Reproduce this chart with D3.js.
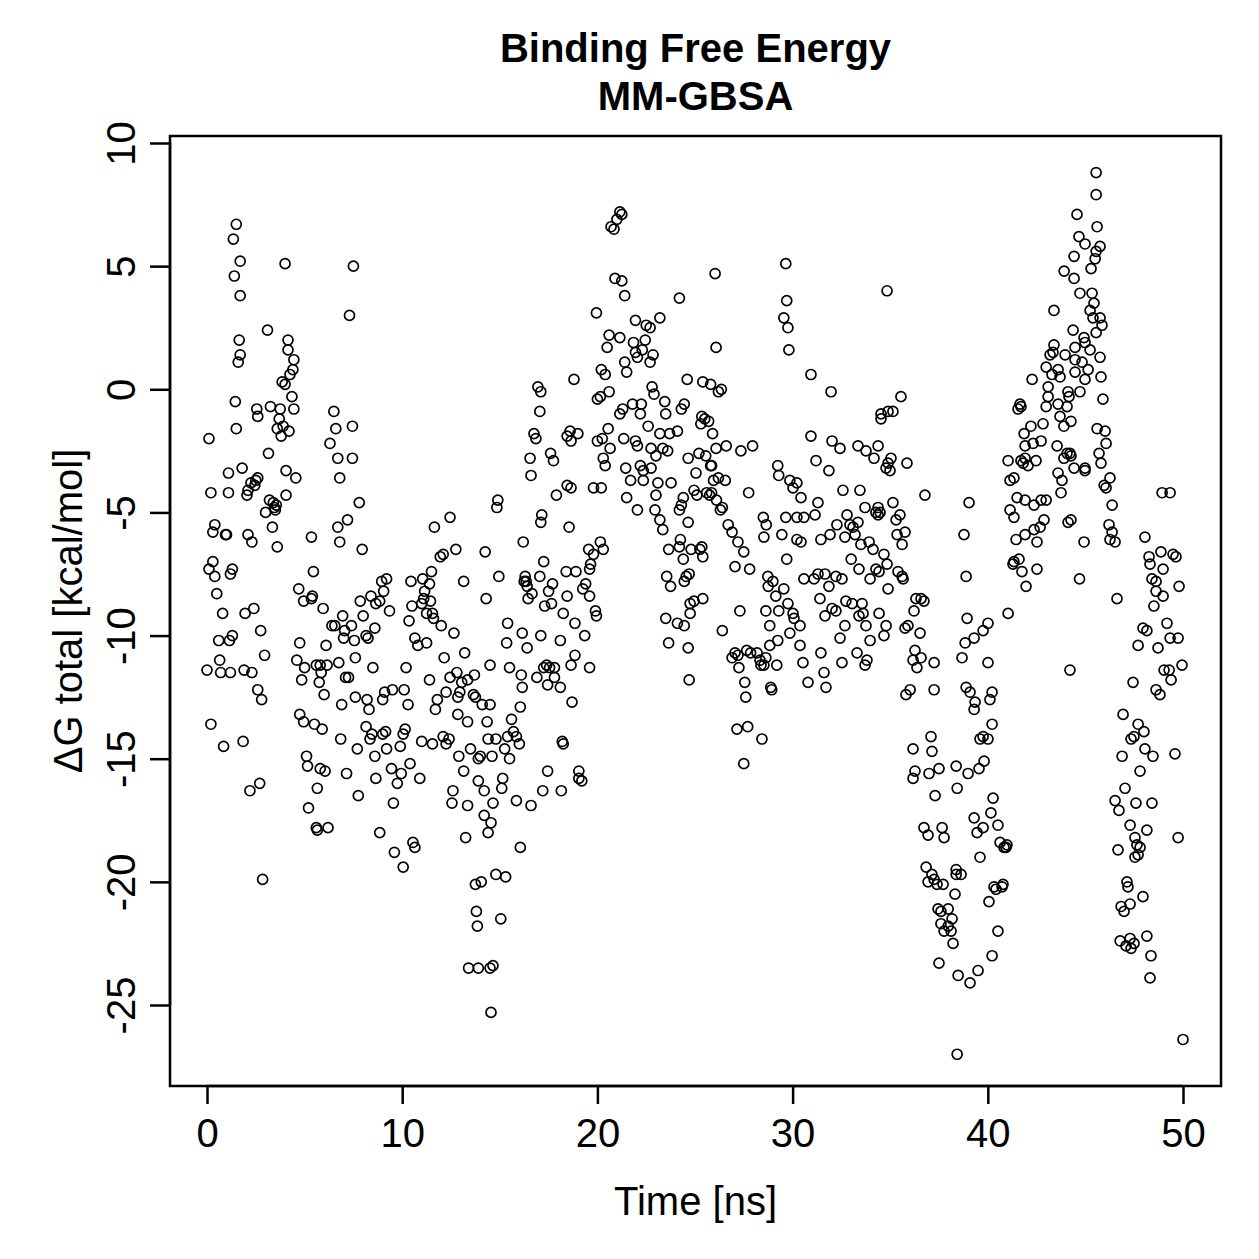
<!DOCTYPE html>
<html>
<head>
<meta charset="utf-8">
<script src="https://cdn.jsdelivr.net/npm/d3@7"></script>
<style>
  body { margin: 0; background: #fff; }
  text { font-family: "Liberation Sans", Arial, sans-serif; fill: #000; }
</style>
</head>
<body>
<div id="chart"></div>
<script>
// frames, [time ns, dG kcal/mol], grouped by time window
var frames0to5 = [
  [0.1,-2],[0.2,-4.2],[0.3,-5.8],[0.1,-7.3],[0.3,-7],[0.4,-7.6],[0.5,-8.3],[0,-11.4],[0.2,-13.6],[0.4,-5.5],
  [0.6,-10.2],[0.7,-11.5],[0.8,-9.1],[0.65,-11],[0.85,-14.5],[0.95,-5.9],[1,-5.9],[1.1,-4.2],[1.2,-7.5],[1.3,-7.3],
  [1.15,-10.2],[1.2,-11.5],[1.1,-3.4],[1.3,-10],[1.35,6.1],[1.5,6.7],[1.4,4.6],[1.7,5.2],[1.7,3.8],[1.65,2],
  [1.6,1.1],[1.7,1.4],[1.45,-0.5],[1.5,-1.6],[1.8,-3.2],[2.05,-4.3],[1.9,-11.4],[1.85,-14.3],[1.95,-9.1],[2.1,-5.9],
  [2.3,-6.2],[2.1,-4.1],[2.25,-3.8],[2.5,-3.7],[2.6,-3.6],[2.45,-3.9],[2.2,-16.3],[2.3,-11.5],[2.55,-0.8],[2.6,-1.1],
  [2.4,-8.9],[2.6,-12.2],[2.8,-12.6],[2.75,-9.8],[2.7,-16],[2.85,-19.9],[2.95,-10.8],[3,-5],[3.1,2.4],[3.25,-0.7],
  [3.2,-4.5],[3.4,-4.6],[3.35,-5.6],[3.15,-2.6],[3.45,-4.8],[3.5,-4.9],[3.55,-4.7],[3.6,-1.6],[3.7,-1.2],[3.75,-0.8],
  [3.6,-6.4],[3.85,0.3],[4.05,-4.3],[3.9,-1.5],[3.8,-1.9],[4,5.1],[4,0.2],[4.15,2],[4.15,1.6],[4.25,0.6],
  [4.05,-3.3],[4.35,-0.3],[4.45,-0.8],[4.45,1.2],[4.4,0.8],[4.2,-1.7],[4.55,-3.6]
];

var frames5to10 = [
  [4.7,-8.1],[4.6,-11],[4.75,-13.2],[4.75,-10.3],[4.85,-11.8],[4.95,-8.6],[5,-11.3],[4.95,-13.5],[5.1,-14.9],[5.15,-15.3],
  [5.2,-17],[5.35,-6],[5.4,-8.4],[5.35,-8.5],[5.45,-7.4],[5.6,-11.2],[5.5,-13.6],[5.6,-17.8],[5.65,-17.9],[5.65,-16.2],
  [5.8,-15.4],[5.8,-11.2],[5.75,-11.9],[5.85,-11.5],[5.95,-8.9],[6,-12.4],[5.9,-13.8],[6.05,-15.5],[6.2,-17.8],[6.15,-11.2],
  [6.4,-9.6],[6.55,-9.6],[6.1,-10.4],[6.3,-2.2],[6.5,-0.9],[6.6,-1.6],[6.7,-2.8],[6.8,-3.6],[6.7,-5.6],[6.8,-6.2],
  [6.75,-11.1],[6.9,-12.8],[6.95,-9.2],[7,-10.1],[6.85,-14.2],[7.05,-9.8],[7.1,-11.7],[7.25,-11.7],[7.15,-15.6],[7.2,-5.3],
  [7.3,3],[7.5,5],[7.45,-1.5],[7.45,-2.8],[7.4,-9.6],[7.55,-10.2],[7.6,-10.9],[7.6,-12.5],[7.7,-14.6],[7.75,-16.5],
  [7.8,-4.6],[7.95,-6.5],[7.85,-8.6],[8,-9.2],[8.15,-10],[8.25,-10.1],[8.15,-13.7],[8.4,-8.4],[8.5,-11.3],[8.3,-13],
  [8.2,-12.6],[8.45,-14],[8.35,-14.2],[8.6,-14.9],[8.65,-15.8],[8.85,-18],[8.6,-9.7],[8.65,-8.7],[8.85,-8.6],[8.95,-7.8],
  [9.05,-8.2],[9.1,-12.3],[9.15,-13.9],[9.2,-14.6],[9,-12.6],[9,-14],[9.2,-7.7],[9.35,-9],[9.5,-12.2],[9.45,-15.4],
  [9.55,-16.8],[9.6,-18.8],[9.75,-16],[9.95,-15.6],[10.05,-19.4],[9.9,-14.5],[10.05,-14],[10.1,-12.2],[10.15,-13.8],[10.3,-12.8],
  [10.2,-11.3]
];

var frames10to16 = [
  [10.35,-9.4],[10.5,-8.8],[10.45,-7.8],[10.4,-15.2],[10.55,-18.4],[10.65,-18.6],[10.65,-10.1],[10.8,-10.4],[11,-14.3],[10.9,-15.8],
  [11,-8.7],[11.05,-7.7],[11.15,-8.2],[11.1,-8.5],[11.25,-9.1],[11.25,-10.3],[11.4,-11.8],[11.4,-7.9],[11.5,-7.4],[11.6,-9.3],
  [11.55,-9.1],[11.45,-8.6],[11.7,-13],[11.8,-12.6],[11.55,-14.4],[11.95,-6.8],[11.65,-5.6],[12.1,-6.7],[12,-9.6],[12.15,-10.9],
  [12.25,-12.3],[12.1,-14.1],[12.25,-14.4],[12.4,-14.2],[12.6,-16.3],[12.55,-16.8],[12.45,-5.2],[12.45,-11.7],[12.75,-6.5],[12.65,-9.9],
  [12.85,-12.5],[12.85,-13.2],[12.9,-14.9],[12.95,-12.3],[12.8,-11.5],[13.05,-11.9],[13.15,-7.8],[13.2,-10.7],[13.35,-11.8],[13.35,-16.9],
  [13.25,-18.2],[13.35,-13.5],[13.15,-15.5],[13.5,-14.6],[13.65,-12.4],[13.7,-11.6],[13.75,-12.5],[13.4,-23.5],[13.75,-20.1],[13.8,-21.2],
  [13.85,-21.8],[14.05,-20],[13.9,-23.5],[13.9,-15.9],[13.9,-15],[14.2,-16.3],[14.2,-17.3],[14,-14.9],[14.1,-12.8],[14.35,-13.5],
  [14.3,-8.5],[14.25,-6.6],[14.5,-11.2],[14.5,-12.8],[14.4,-14.2],[14.4,-18],[14.5,-23.5],[14.65,-23.4],[14.55,-25.3],[14.6,-14.9],
  [14.55,-17.6],[14.65,-16.8],[14.8,-14.2],[14.8,-19.7],[14.85,-4.8],[14.9,-4.5],[14.95,-7.6],[15.05,-21.5],[15.15,-15.8],[15.1,-16.2],
  [15.25,-14.6],[15.4,-14.1],[15.3,-19.8],[15.35,-10.3],[15.4,-9.5],[15.5,-11.3],[15.6,-13.4],[15.7,-13.9],[15.5,-15],[15.85,-16.7],
  [15.85,-14.1],[16.05,-12.9],[16,-14.4],[16.05,-18.6],[16.15,-12.1]
];

var frames16to20 = [
  [16.2,-6.2],[16.15,-9.9],[16.1,-11.6],[16.25,-7.8],[16.3,-7.6],[16.35,-7.8],[16.4,-8],[16.45,-8.5],[16.4,-10.5],[16.6,-16.9],
  [16.6,-3.5],[16.55,-2.8],[16.75,-1.8],[16.85,-2],[16.95,0.1],[17.1,-0.1],[17.05,-0.9],[16.65,-8.3],[17.1,-5.4],[17.15,-5.1],
  [17.05,-7.6],[17.25,-7],[17.1,-10],[16.9,-11.7],[17.25,-11.3],[17.4,-11.2],[17.55,-11.3],[17.8,-11.3],[17.45,-12],[17.2,-16.3],
  [17.45,-15.5],[17.65,-8.7],[17.5,-8.2],[17.7,-7.9],[17.6,-2.6],[17.75,-2.9],[17.9,-4.3],[17.3,-8.8],[18.1,-10.2],[17.8,-11.7],
  [18.2,-14.3],[18.25,-14.4],[18.1,-12.1],[18.15,-16.3],[18.25,-9.1],[18.45,-8.4],[18.4,-7.4],[18.55,-5.6],[18.45,-3.9],[18.45,-1.9],
  [18.6,-1.7],[18.65,-2.1],[18.65,-4],[18.65,-11.2],[18.7,-12.7],[18.85,-9.5],[18.85,-10.8],[18.9,-7.4],[19.05,-15.5],[19.05,-15.8],
  [19.2,-15.9],[19,-1.8],[19.25,-8.1],[19.35,-10],[19.4,-7.9],[19.55,-6.5],[19.65,-7.1],[19.8,-6.7],[19.6,-7.3],[19.6,-8.4],
  [19.6,-11.3],[19.9,-9],[19.95,-9.2],[19.8,-4],[20.3,-6.5],[20.15,-6.2],[18.8,0.4]
];

var frames20to25 = [
  [20,-0.4],[20.15,-0.3],[20,-2.1],[19.95,3.1],[20.2,0.8],[20.25,-2],[20.3,-2.8],[20.4,-3.1],[20.2,-4],[20.4,0.6],
  [20.5,1.7],[20.55,-1.6],[20.65,-2.4],[20.6,-0.1],[20.6,2.2],[20.7,6.6],[20.85,6.5],[21,6.9],[21.15,7.2],[21.25,7.1],
  [20.9,4.5],[21.25,4.4],[21.4,3.8],[21.15,2.1],[21.4,1.1],[21.15,-1],[21.3,-0.8],[21.35,-2],[21.45,-3.2],[21.5,-4.4],
  [21.7,-3.7],[21.5,0.7],[21.85,1.9],[21.95,1.5],[21.95,2.8],[22.05,1.3],[21.8,-0.6],[21.95,-2.1],[22.05,-2.3],[22.05,-4.9],
  [22.2,-3.1],[22.35,-3.7],[22.35,-3.3],[22.2,-1],[22.25,-0.6],[22.3,1.6],[22.45,2],[22.5,2.6],[22.7,2.5],[23.2,2.9],
  [22.7,1.1],[22.85,1.4],[22.8,0.1],[22.9,-0.2],[22.6,-1.5],[22.75,-2.4],[23,-2.7],[22.75,-3.2],[23.1,-3.8],[23,-4.3],
  [22.95,-4.9],[23.2,-5.3],[23.35,-5.7],[23.35,-2.4],[23.2,-1.8],[23.45,-0.5],[23.5,-1],[23.6,-2.5],[23.775,-3.8],[23.7,-1.8],
  [23.65,-6.5],[23.55,-7.6],[23.75,-8],[23.5,-9.3],[23.65,-10.3],[24.25,-6.1],[24.2,-6.4],[24.4,-6.9],[24.55,-7.6],[24.1,-9.5],
  [24.45,-9.6],[24.45,-7.8],[24.2,3.7],[24.2,-4.9],[24.4,-4.4],[24.3,-4.7],[24.1,-1.7],[24.3,-0.8],[24.45,-0.6],[24.6,0.4],
  [24.65,-2.8],[24.65,-5.4],[24.8,-6.5],[24.7,-7.5],[24.75,-8.7],[24.75,-9.1],[24.65,-10.5],[24.7,-11.8],[24.95,-8.6],[24.95,-4.1]
];

var frames25to30 = [
  [25.1,-4.3],[25.05,-3.4],[25.2,-2.6],[25.3,-1.4],[25.35,-1.1],[25.5,-1.2],[25.7,-1.3],[25.4,0.3],[25.8,0.2],[26.2,-0.1],
  [26.35,0],[25.6,-4.2],[25.75,-4.3],[25.85,-4.2],[25.95,-3.7],[26.1,-4.5],[26.3,-4.9],[26.2,-3.6],[25.55,-2.7],[25.8,-3.1],
  [25.85,-3.1],[25.35,-6.4],[25.25,-6.5],[25.4,-6.8],[25.9,-1.8],[26.08,-2.4],[25.4,-8.5],[26.08,1.7],[26.03,4.7],[26.6,-2.3],
  [26.4,-4.8],[26.7,-5.5],[26.55,-3.7],[26.9,-5.8],[26.4,-9.8],[27.05,-7.2],[27.05,-10.7],[26.9,-10.9],[27.2,-10.8],[27.25,-11.3],
  [27.15,-13.8],[27.3,-9],[27.2,-6.2],[27.5,-6.6],[27.35,-2.5],[27.6,-12.5],[27.55,-11.9],[27.7,-13.7],[27.5,-15.2],[27.65,-10.6],
  [27.85,-10.7],[27.8,-7.3],[27.75,-4.2],[27.95,-2.3],[28.5,-5.2],[28.53,-6],[28.65,-5.5],[28.75,-8],[28.18,-10.7],[28.38,-11.2],
  [28.53,-11.2],[28.63,-10.9],[28.33,-11],[28.43,-14.2],[28.63,-9],[28.83,-9.6],[28.73,-7.6],[28.88,-12.1],[28.83,-10.4],[28.99,-7.8],
  [29.14,-8.4],[29.29,-9],[29.24,-10.2],[29.19,-11.2],[28.93,-12.2],[29.24,-3.1],[29.29,-3.5],[29.65,-5.2],[29.45,-5.9],[29.7,-6.9],
  [29.55,-8.1],[29.76,-8.7],[29.86,-9.9],[30.07,-9.3],[29.65,5.1],[29.7,3.6],[29.55,2.9],[29.76,2.5],[29.81,1.6],[29.86,-3.7],
  [30.02,-4],[30.22,-5.2],[30.22,-6.1],[30.43,-6.2],[30.22,-3.8],[30.43,-4.4],[30.58,-5.2],[30.58,-7.7],[30.02,-9.1],[30.38,-10.4]
];

var frames30to35 = [
  [30.53,-11.1],[30.79,-11.9],[30.38,-9.6],[30.94,0.6],[30.94,-1.9],[31.15,-5.1],[31.1,-7.7],[31.3,-7.5],[31.2,-2.9],[31.3,-4.6],
  [31.45,-6.1],[31.4,-8.5],[31.45,-10.7],[31.61,-11.5],[31.71,-12.1],[31.66,-9.2],[31.66,-7.5],[31.86,-8],[31.92,-5.9],[31.86,-3.3],
  [32.02,-2.1],[31.97,-0.1],[32.27,-5.5],[32.22,-7.6],[32.02,-8.9],[32.22,-9],[32.43,-10.1],[32.53,-11.1],[32.68,-9.6],[32.73,-8.6],
  [32.53,-7.7],[32.68,-6],[32.79,-5.1],[32.58,-4.1],[32.43,-2.4],[32.94,-5.5],[33.1,-5.6],[33.2,-5.9],[33,-6.9],[33.05,-8.7],
  [33.3,-10.7],[33.4,-9.2],[33.56,-8.7],[33.35,-5.4],[33.35,-2.3],[33.5,-6.3],[33.4,-7.3],[33.61,-9.1],[33.81,-11],[33.71,-11.2],
  [33.76,-2.5],[33.45,-4.1],[33.71,-4.8],[33.92,-6.2],[33.97,-7.7],[33.76,-9.6],[33.97,-10.2],[34.12,-6.5],[34.27,-7.3],[34.17,-2.8],
  [34.27,-5],[34.38,-5.1],[34.48,-5],[34.38,-2.3],[34.38,-4.8],[34.43,-7.4],[34.43,-9.1],[34.68,-10],[34.79,-9.6],[34.53,-1.2],
  [34.53,-1],[34.68,-6.7],[34.84,-7.1],[34.89,-8.1],[34.79,-3.2],[34.89,-3],[34.84,4],[34.89,-0.9],[34.99,-3.3],[35.04,-2.8],
  [35.14,-4.6],[35.3,-5.3],[35.35,-5.9],[35.4,-7.4],[35.61,-7.6],[35.14,-0.9],[35.55,-0.3],[35.86,-3],[35.61,-6.3],[35.5,-5.1],
  [35.76,-5.8],[35.66,-7.7],[35.76,-9.7],[35.91,-9.6],[35.81,-12.4],[36.02,-12.2],[36.17,-11],[36.27,-10.6],[36.37,-11.3],[36.17,-14.6]
];

var frames35to40 = [
  [36.17,-15.8],[36.27,-15.5],[36.22,-9],[36.32,-8.5],[36.58,-8.5],[36.73,-8.6],[36.53,-9.9],[36.58,-10.9],[36.73,-17.8],[36.84,-19.4],
  [36.94,-20],[36.94,-18.1],[37.14,-19.7],[37.25,-19.9],[37.4,-20.1],[37.09,-14.1],[36.99,-15.6],[37.14,-14.7],[36.78,-4.3],[37.25,-11.1],
  [37.25,-12.2],[37.3,-16.5],[37.45,-21.1],[37.6,-21.7],[37.76,-22],[37.5,-23.3],[37.6,-21.2],[37.5,-15.4],[37.66,-17.8],[37.76,-18.2],
  [37.71,-20.1],[37.97,-21.8],[38.12,-22],[38.22,-22.5],[37.97,-21.1],[38.17,-21.5],[38.38,-19.5],[38.38,-19.7],[38.43,-16.2],[38.38,-15.3],
  [38.32,-20.5],[38.48,-23.8],[38.43,-27],[38.63,-19.7],[38.68,-10.9],[38.78,-5.9],[38.89,-7.6],[38.94,-9.3],[38.84,-10.3],[38.89,-12.1],
  [39.09,-12.3],[39.3,-13],[39.35,-12.7],[39.3,-10.1],[39.04,-4.6],[38.99,-15.6],[39.3,-17.4],[39.45,-18],[39.09,-24.1],[39.5,-23.6],
  [39.6,-14.2],[39.76,-14.1],[39.55,-15.4],[39.76,-9.8],[40.01,-9.5],[39.81,-15.1],[39.6,-19],[39.76,-17.8],[40.01,-14.2],[40.01,-11.1],
  [40.11,-12.6],[40.22,-13.6],[40.22,-12.3],[40.27,-16.6],[40.16,-17.2],[40.06,-20.8],[40.22,-23],[40.32,-20.2],[40.42,-20.3],[40.52,-22]
];

var frames40to45 = [
  [40.52,-17.7],[40.63,-18.4],[40.83,-18.6],[40.73,-20.2],[40.78,-20.1],[40.98,-18.5],[40.93,-18.6],[41.04,-9.1],[41.04,-2.9],[41.14,-3.7],
  [41.14,-4.9],[41.34,-5.2],[41.34,-3.6],[41.55,-0.8],[41.65,-0.6],[41.7,-0.7],[41.5,-4.4],[41.45,-6.1],[41.34,-7],[41.29,-7.1],
  [41.7,-2.9],[41.91,-2.8],[41.81,-3],[42.06,-3.1],[41.86,-1.8],[41.91,-2.3],[41.91,-4.5],[41.6,-6.9],[41.75,-7.4],[41.91,-5.9],
  [41.96,-8],[42.27,0.4],[42.21,-1.5],[42.32,-2.2],[42.47,-2.9],[42.37,-4.7],[42.37,-5.7],[42.52,-6.2],[42.73,-4.5],[42.68,-5.6],
  [42.88,-5.3],[42.99,-4.5],[42.52,-7.3],[42.73,-2.1],[42.83,-1.4],[42.99,-0.7],[43.09,-0.3],[42.99,0.9],[43.19,1.4],[43.09,0.1],
  [43.34,1.5],[43.39,1.8],[43.39,3.2],[43.29,0.6],[43.6,-0.6],[43.7,-1.1],[43.9,-1.5],[43.55,-2.3],[43.6,-3.4],[43.75,-4.2],
  [43.8,-3.7],[43.9,-2.8],[44.06,-2.6],[43.6,0.8],[43.7,0.5],[44.11,-0.1],[44.06,-0.7],[44.16,-0.3],[43.96,1.4],[44.21,-2.6],
  [44.26,-1.3],[44.42,-3.2],[44.11,-5.4],[44.26,-5.3],[44.7,-7.7],[44.98,-3.3],[43.91,4.8],[44.47,1.2],[44.47,0.7],[44.47,1.7],
  [44.72,-0.1],[44.26,-2.7],[44.42,4.5],[44.42,5.4],[44.57,7.1],[44.67,6.2],[44.98,5.9],[44.72,3.9],[44.37,2.4],[44.83,1.1]
];

var frames45to50 = [
  [44.98,0.4],[45.14,0.8],[44.93,2.1],[44.98,1.9],[45.24,1.6],[44.98,-3.2],[44.93,-6.2],[44.21,-11.4],[45.24,3.2],[45.39,2.9],
  [45.34,3.9],[45.44,3.5],[45.29,4.9],[45.5,5.3],[45.55,5.6],[45.55,7.9],[45.55,8.8],[45.6,6.6],[45.75,5.8],[45.55,2.3],
  [45.75,2.9],[45.85,2.6],[45.75,1.3],[45.8,0.5],[45.9,-0.4],[45.6,-1.6],[45.7,-2.6],[45.8,-3],[46.06,-2.2],[46.01,-1.7],
  [45.96,-3.9],[46.06,-4],[46.26,-3.6],[46.21,-5.5],[46.26,-6.1],[46.37,-5.8],[46.52,-6.2],[46.37,-4.7],[46.62,-8.5],[46.52,-16.7],
  [46.67,-18.7],[46.72,-17.1],[46.83,-21],[46.98,-21.2],[46.78,-22.4],[47.08,-22.6],[46.93,-13.2],[46.88,-14.9],[47.03,-16.2],[47.13,-20],
  [47.18,-20.2],[47.29,-20.9],[47.34,-22.7],[47.29,-22.3],[47.34,-14.2],[47.49,-14.1],[47.29,-17.7],[47.54,-18.2],[47.54,-19],[47.7,-18.9],
  [47.64,-18.5],[47.49,-22.5],[47.44,-11.9],[47.7,-13.6],[47.59,-16.8],[47.7,-10.4],[47.95,-9.7],[48.05,-6],[47.8,-15.5],[47.8,-18.6],
  [47.95,-20.6],[48.15,-22.2],[48.15,-17.9],[48.05,-14.6],[48,-13.9],[48.15,-9.8],[48.26,-6.8],[48.31,-7.1],[48.41,-7.7],[48.62,-7.8],
  [48.62,-8.2],[48.51,-8.8],[48.62,-12.2],[48.46,-14.9],[48.41,-16.8],[48.36,-23],[48.31,-23.9],[48.82,-12.4],[48.72,-10.5],[48.87,-6.6],
  [48.98,-7.3],[49.18,-9.5],[48.98,-8.4],[48.93,-4.2],[49.34,-4.2],[49.03,-11.4],[49.29,-11.4],[49.34,-10.1],[49.39,-11.8],[49.59,-14.8],
  [49.49,-6.7],[49.64,-6.8],[49.8,-8],[49.75,-10.1],[49.95,-11.2],[49.75,-18.2],[50,-26.4]
];

var xTicks = [0, 10, 20, 30, 40, 50];
var yTicks = [10, 5, 0, -5, -10, -15, -20, -25];
var titleLines = ['Binding Free Energy', 'MM-GBSA'];
var xLabel = 'Time [ns]';
var yLabel = '\u0394G total [kcal/mol]';

(function(d3) {
  'use strict';

  var width = 1259, height = 1259;
  var box = { left: 170, right: 1221, top: 136, bottom: 1086 };
  var fontSize = '40px';

  var allFrames = [].concat(frames0to5, frames5to10, frames10to16, frames16to20,
    frames20to25, frames25to30, frames30to35, frames35to40, frames40to45, frames45to50);

  var x = d3.scaleLinear().domain([0, 50]).range([207, 1183]);
  var y = d3.scaleLinear().domain([-25, 10]).range([1005, 143]);

  var svg = d3.select('#chart').append('svg')
    .attr('width', width)
    .attr('height', height);

  // points
  svg.append('g').selectAll('circle')
    .data(allFrames)
    .enter()
    .append('circle')
    .attr('cx', function(d) { return x(d[0]); })
    .attr('cy', function(d) { return y(d[1]); })
    .attr('r', 5)
    .attr('fill', 'none')
    .attr('stroke', '#000')
    .attr('stroke-width', 1.7);

  // plot box
  svg.append('rect')
    .attr('x', box.left)
    .attr('y', box.top)
    .attr('width', box.right - box.left)
    .attr('height', box.bottom - box.top)
    .attr('fill', 'none')
    .attr('stroke', '#000')
    .attr('stroke-width', 2.5);

  // x axis
  var xAxis = d3.axisBottom(x).tickValues(xTicks).tickSize(18);
  var gx = svg.append('g')
    .attr('transform', 'translate(0,' + box.bottom + ')')
    .call(xAxis);
  gx.select('.domain').attr('d', 'M' + x(0) + ',0H' + x(50)).attr('stroke-width', 2.5);
  gx.selectAll('.tick line').attr('stroke-width', 2.5);
  gx.selectAll('.tick text')
    .attr('y', 61)
    .attr('dy', null)
    .style('font-family', '"Liberation Sans", Arial, sans-serif')
    .style('font-size', fontSize);

  // y axis, labels turned like R's default
  var yAxis = d3.axisLeft(y).tickValues(yTicks).tickSize(20).tickFormat(d3.format('d'));
  var gy = svg.append('g')
    .attr('transform', 'translate(' + box.left + ',0)')
    .call(yAxis);
  gy.select('.domain').attr('d', 'M0,' + y(10) + 'V' + y(-25)).attr('stroke-width', 2.5);
  gy.selectAll('.tick line').attr('stroke-width', 2.5);
  gy.selectAll('.tick text')
    .attr('x', 0)
    .attr('dy', null)
    .attr('transform', 'translate(-35,0) rotate(-90)')
    .attr('text-anchor', 'middle')
    .style('font-family', '"Liberation Sans", Arial, sans-serif')
    .style('font-size', fontSize);
  svg.selectAll('.tick text').text(function(d) { return String(d).replace('\u2212', '-'); });

  // titles
  svg.append('g').selectAll('text')
    .data(titleLines)
    .enter()
    .append('text')
    .attr('x', (box.left + box.right) / 2)
    .attr('y', function(d, i) { return 62 + i * 48; })
    .attr('text-anchor', 'middle')
    .style('font-size', fontSize)
    .style('font-weight', 'bold')
    .text(function(d) { return d; });

  svg.append('text')
    .attr('x', (box.left + box.right) / 2)
    .attr('y', 1215)
    .attr('text-anchor', 'middle')
    .style('font-size', fontSize)
    .text(xLabel);

  svg.append('text')
    .attr('transform', 'translate(82,' + ((box.top + box.bottom) / 2) + ') rotate(-90)')
    .attr('text-anchor', 'middle')
    .style('font-size', fontSize)
    .text(yLabel);

})(window.d3);
</script>
</body>
</html>
